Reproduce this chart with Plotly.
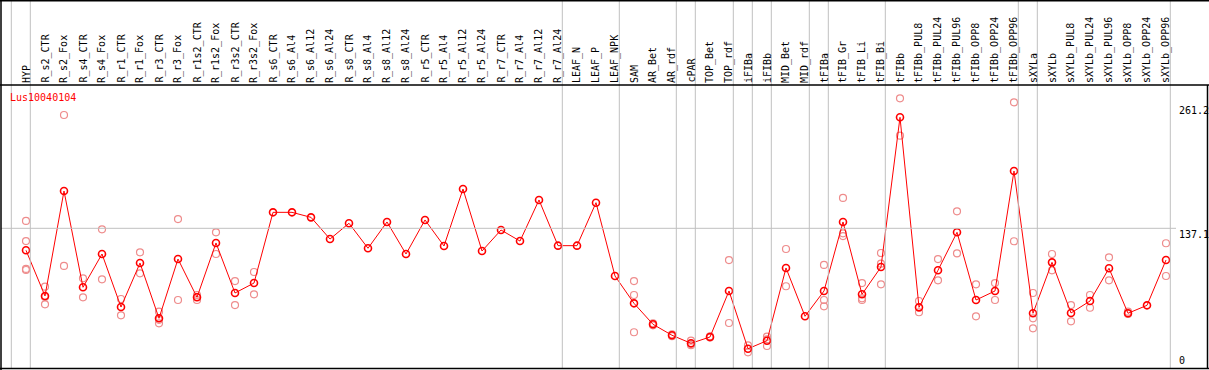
import plotly.graph_objects as go

categories = ["HYP", "R_s2_CTR", "R_s2_Fox", "R_s4_CTR", "R_s4_Fox", "R_r1_CTR", "R_r1_Fox",
              "R_r3_CTR", "R_r3_Fox", "R_r1s2_CTR", "R_r1s2_Fox", "R_r3s2_CTR", "R_r3s2_Fox",
              "R_s6_CTR", "R_s6_Al4", "R_s6_Al12", "R_s6_Al24", "R_s8_CTR", "R_s8_Al4", "R_s8_Al12",
              "R_s8_Al24", "R_r5_CTR", "R_r5_Al4", "R_r5_Al12", "R_r5_Al24", "R_r7_CTR", "R_r7_Al4",
              "R_r7_Al12", "R_r7_Al24", "LEAF_N", "LEAF_P", "LEAF_NPK", "SAM", "AR_Bet", "AR_rdf",
              "cPAR", "TOP_Bet", "TOP_rdf", "iFIBa", "iFIBb", "MID_Bet", "MID_rdf", "tFIBa",
              "tFIB_Gr", "tFIB_Li", "tFIB_Bi", "tFIBb", "tFIBb_PUL8", "tFIBb_PUL24", "tFIBb_PUL96",
              "tFIBb_OPP8", "tFIBb_OPP24", "tFIBb_OPP96", "sXYLa", "sXYLb", "sXYLb_PUL8",
              "sXYLb_PUL24", "sXYLb_PUL96", "sXYLb_OPP8", "sXYLb_OPP24", "sXYLb_OPP96"]

means = [115.2, 69.7, 174.2, 78.4, 111.5, 58.7, 102.5, 47.5, 106.5, 68.4, 122.5, 72.7, 82.6,
         153.0, 153.0, 148.0, 126.4, 142.1, 117.2, 143.4, 111.5, 145.4, 119.5, 176.2, 114.5,
         135.4, 124.4, 165.3, 119.8, 119.8, 162.6, 89.6, 62.4, 41.5, 30.6, 22.6, 28.9, 74.7,
         17.2, 25.2, 97.6, 49.5, 74.7, 143.4, 71.4, 98.6, 247.6, 58.4, 95.3, 133.1, 65.7, 74.7,
         194.1, 52.5, 103.2, 52.8, 64.7, 97.3, 52.5, 60.4, 105.5]

rep1 = [144.4, 79.0, 249.9, 87.3, 136.1, 66.7, 113.2, 54.1, 146.3, 70.7, 133.1, 84.6, 93.6,
        None, None, None, None, None, None, None, None, None, None, None, None,
        None, None, None, None, None, None, None, 84.6, 42.5, 31.5, 25.2, 29.5, 105.5,
        20.6, 29.2, 116.5, None, 100.6, 167.3, 82.6, 112.5, 266.5, 64.7, 106.5, 154.0, 81.3, 82.6,
        262.5, 72.7, 111.5, 60.7, 70.7, 108.2, 54.1, None, 122.2]
rep2 = [124.4, 61.4, 99.6, 68.4, 86.3, 50.5, 92.3, 42.5, 65.7, 65.7, 111.5, 60.7, 71.4,
        None, None, None, None, None, None, None, None, None, None, None, None,
        None, None, None, None, None, None, None, 70.7, 40.5, 29.7, 21.9, 28.3, 42.8,
        13.6, 19.9, 79.4, None, 65.7, 132.1, 67.4, 101.9, 229.3, 53.5, 85.3, 112.2, 49.5, 65.7,
        124.2, 47.5, 95.3, 44.5, 58.0, 85.3, 51.8, None, 89.6]
rep3 = [96.6, 68.8, None, None, None, None, None, 46.0, None, 68.8, None, None, None,
        None, None, None, None, None, None, None, None, None, None, None, None,
        None, None, None, None, None, None, None, 33.6, None, None, 20.7, None, None,
        None, 26.5, None, None, 59.4, 129.4, 65.7, 81.3, None, None, None, None, None, None,
        None, 37.5, None, None, None, None, None, None, None]
rep4 = [95.6] + [None] * 60

axis_ticks = [261.2, 137.1, 0]
separators_after = [-1, 0, 28, 31, 34, 35, 37, 38, 39, 41, 42, 45, 52, 53, 60]

W, H = 1209, 370
PX_PER_CAT = 19.0
X0 = 26.0
Y_ZERO = 366.0
Y_SCALE = 1.0044

def px(x):
    return x / W

def py(y):
    return 1 - y / H

FONT = "DejaVu Sans Mono"
RED = "#ff0000"
PINK = "rgb(238,140,140)"
GRID = "#c0c0c0"

xs = list(range(len(categories)))

fig = go.Figure()

rx, ry = [], []
for reps in (rep1, rep2, rep3, rep4):
    for i, v in enumerate(reps):
        if v is not None:
            rx.append(i)
            ry.append(v)

fig.add_trace(go.Scatter(x=rx, y=ry, mode="markers",
                         marker=dict(symbol="circle-open", size=7, color=PINK,
                                     line=dict(width=1.2, color=PINK)),
                         hoverinfo="skip", showlegend=False))
fig.add_trace(go.Scatter(x=xs, y=means, mode="lines+markers",
                         line=dict(color=RED, width=1),
                         marker=dict(symbol="circle-open", size=7, color=RED,
                                     line=dict(width=1.6, color=RED)),
                         showlegend=False))

shapes = []
for k in separators_after:
    xv = k + 4.3 / PX_PER_CAT
    shapes.append(dict(type="line", xref="x", yref="paper", x0=xv, x1=xv,
                       y0=py(368), y1=1, line=dict(color=GRID, width=1)))
shapes.append(dict(type="line", xref="paper", yref="y", x0=px(1), x1=px(1176),
                   y0=137.1, y1=137.1, line=dict(color=GRID, width=1)))
shapes.append(dict(type="line", xref="paper", yref="paper", x0=0, x1=1, y0=py(0.75), y1=py(0.75),
                   line=dict(color="black", width=1.5)))
shapes.append(dict(type="line", xref="paper", yref="paper", x0=0, x1=1, y0=py(85), y1=py(85),
                   line=dict(color="black", width=1.5)))
shapes.append(dict(type="line", xref="paper", yref="paper", x0=0, x1=1, y0=py(368.5), y1=py(368.5),
                   line=dict(color="black", width=1.5)))
shapes.append(dict(type="line", xref="paper", yref="paper", x0=px(1), x1=px(1), y0=0, y1=1,
                   line=dict(color="black", width=1.5)))
shapes.append(dict(type="line", xref="paper", yref="paper", x0=px(1207.5), x1=px(1207.5),
                   y0=py(85), y1=py(368.5), line=dict(color="black", width=1.5)))

annotations = []
for i, c in enumerate(categories):
    annotations.append(dict(x=i, xref="x", y=py(84), yref="paper", text=c, textangle=-90,
                            xanchor="center", yanchor="bottom", showarrow=False,
                            borderpad=0, font=dict(family=FONT, size=10, color="black")))
annotations.append(dict(x=px(9), xref="paper", y=py(97), yref="paper", text="Lus10040104",
                        xanchor="left", yanchor="middle", showarrow=False, borderpad=0,
                        font=dict(family=FONT, size=10, color=RED)))
for t in axis_ticks:
    if t == 0:
        annotations.append(dict(x=px(1178), xref="paper", y=py(367), yref="paper", text="0",
                                xanchor="left", yanchor="bottom", showarrow=False, borderpad=0,
                                font=dict(family=FONT, size=10, color="black")))
    else:
        annotations.append(dict(x=px(1178), xref="paper", y=t, yref="y", text=f"{t:.1f}",
                                xanchor="left", yanchor="top", showarrow=False, borderpad=0,
                                font=dict(family=FONT, size=10, color="black")))

x_lo = -X0 / PX_PER_CAT
x_hi = (W - X0) / PX_PER_CAT
y_lo = -(H - Y_ZERO) / Y_SCALE
y_hi = Y_ZERO / Y_SCALE

fig.update_layout(
    width=W, height=H,
    margin=dict(l=0, r=0, t=0, b=0, pad=0),
    paper_bgcolor="white", plot_bgcolor="white",
    xaxis=dict(range=[x_lo, x_hi], visible=False, fixedrange=True),
    yaxis=dict(range=[y_lo, y_hi], visible=False, fixedrange=True),
    shapes=shapes, annotations=annotations,
    showlegend=False,
)

fig.write_html(
    "out.html",
    config={"displayModeBar": False},
    post_script="document.body.style.margin='0';document.body.style.padding='0';"
                "document.body.style.overflow='hidden';"
                "document.documentElement.style.overflow='hidden';",
)
